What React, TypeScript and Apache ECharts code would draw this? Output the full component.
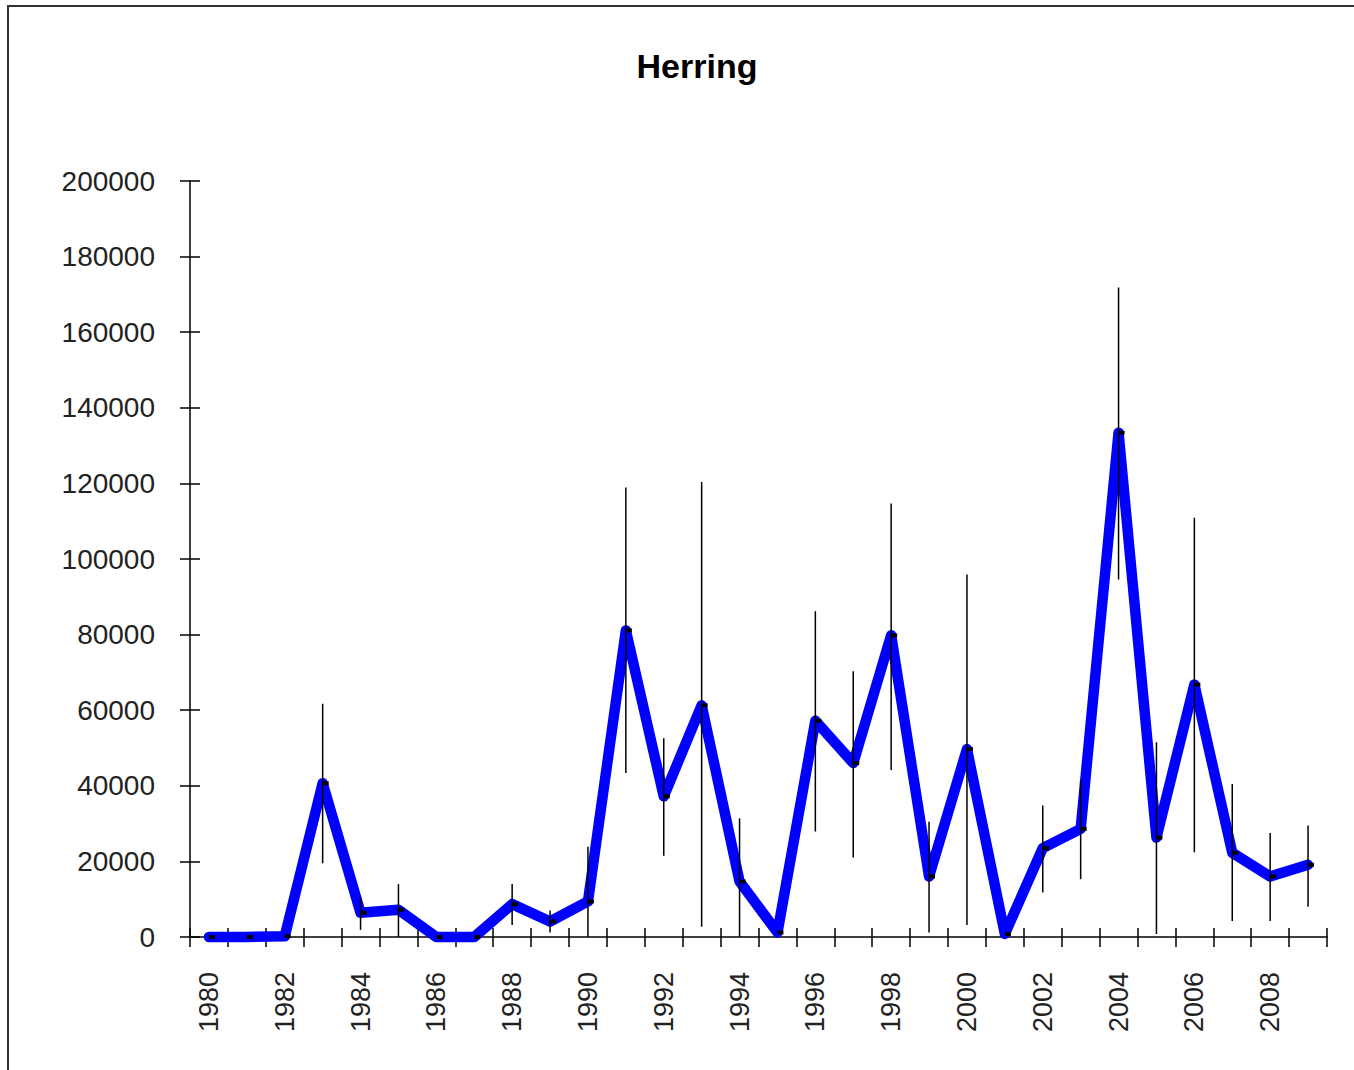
import React, { useEffect, useRef } from "react";
import * as echarts from "echarts";

const years = [
  "1980", "1981", "1982", "1983", "1984", "1985", "1986", "1987", "1988", "1989",
  "1990", "1991", "1992", "1993", "1994", "1995", "1996", "1997", "1998", "1999",
  "2000", "2001", "2002", "2003", "2004", "2005", "2006", "2007", "2008", "2009",
];

const values = [
  0, 0, 200, 40700, 6400, 7200, 0, 0, 8700, 4100,
  9400, 81100, 37200, 61300, 14700, 1200, 57200, 46000, 79800, 16000,
  49700, 800, 23500, 28600, 133400, 26300, 66800, 22300, 16000, 19100,
];

const lower = [
  null, null, null, 19500, 1900, 0, null, null, 3200, 1200,
  0, 43400, 21500, 2700, 0, null, 27900, 21000, 44200, 1200,
  3200, null, 11800, 15300, 94600, 800, 22400, 4200, 4200, 8000,
];

const upper = [
  null, null, null, 61700, 10500, 14000, null, null, 14000, 7000,
  23900, 118900, 52600, 120400, 31400, null, 86200, 70300, 114700, 30500,
  95900, null, 34800, 41400, 171800, 51500, 110900, 40500, 27500, 29500,
];

const titleText = "Herring";
const yMin = 0;
const yMax = 200000;
const yStep = 20000;

const FONT = "'Liberation Sans', Arial, sans-serif";

export default function App() {
  const ref = useRef<HTMLDivElement>(null);

  useEffect(() => {
    if (!ref.current) return;
    const chart = echarts.init(ref.current, null, { renderer: "svg" });

    const errData = years
      .map((_, i) => [i, lower[i], upper[i]])
      .filter((d) => d[1] != null && d[2] != null);

    const grid = { left: 190, right: 27, top: 181, bottom: 133 };

    chart.setOption({
      animation: false,
      backgroundColor: "#ffffff",
      textStyle: { fontFamily: FONT },
      graphic: [
        {
          type: "rect",
          shape: { x: 8, y: 6, width: 1400, height: 1100 },
          style: { fill: "none", stroke: "#333", lineWidth: 2 },
          silent: true,
        },
        {
          type: "text",
          x: 697,
          y: 66,
          style: {
            text: titleText,
            fontFamily: FONT,
            fontSize: 34,
            fontWeight: "bold",
            fill: "#000",
            align: "center",
            verticalAlign: "middle",
          },
        },
      ],
      grid,
      xAxis: [
        {
          type: "category",
          data: years,
          boundaryGap: true,
          position: "bottom",
          axisLine: { show: true, lineStyle: { color: "#000", width: 1.5 } },
          axisTick: {
            show: true,
            interval: 0,
            inside: false,
            length: 10,
            lineStyle: { color: "#000", width: 1.5 },
          },
          axisLabel: {
            interval: 1,
            rotate: 90,
            margin: 35,
            fontSize: 27,
            color: "#222",
            fontFamily: FONT,
          },
          splitLine: { show: false },
        },
        {
          type: "category",
          data: years,
          boundaryGap: true,
          position: "bottom",
          axisLine: { show: false },
          axisTick: {
            show: true,
            interval: 0,
            inside: true,
            length: 9,
            lineStyle: { color: "#000", width: 1.5 },
          },
          axisLabel: { show: false },
          splitLine: { show: false },
        },
      ],
      yAxis: [
        {
          type: "value",
          min: yMin,
          max: yMax,
          interval: yStep,
          position: "left",
          axisLine: { show: true, lineStyle: { color: "#000", width: 1.5 } },
          axisTick: {
            show: true,
            inside: false,
            length: 10,
            lineStyle: { color: "#000", width: 1.5 },
          },
          axisLabel: {
            margin: 35,
            fontSize: 28,
            color: "#222",
            fontFamily: FONT,
            formatter: (v: number) => String(v),
          },
          splitLine: { show: false },
        },
        {
          type: "value",
          min: yMin,
          max: yMax,
          interval: yStep,
          position: "left",
          axisLine: { show: false },
          axisTick: {
            show: true,
            inside: true,
            length: 10,
            lineStyle: { color: "#000", width: 1.5 },
          },
          axisLabel: { show: false },
          splitLine: { show: false },
        },
      ],
      series: [
        {
          type: "line",
          data: values,
          xAxisIndex: 0,
          yAxisIndex: 0,
          clip: false,
          z: 2,
          lineStyle: { color: "#0000ff", width: 10.5, cap: "round", join: "round" },
          symbol: "rect",
          symbolSize: [6, 4],
          symbolOffset: [3, 0],
          showSymbol: true,
          itemStyle: { color: "#000" },
        },
        {
          type: "custom",
          xAxisIndex: 0,
          yAxisIndex: 0,
          z: 3,
          clip: false,
          data: errData,
          encode: { x: 0, y: [1, 2] },
          renderItem: (params: any, api: any) => {
            const i = api.value(0);
            const lo = api.value(1);
            const hi = api.value(2);
            const p1 = api.coord([i, lo]);
            const p2 = api.coord([i, hi]);
            return {
              type: "line",
              shape: { x1: p1[0], y1: p1[1], x2: p2[0], y2: p2[1] },
              style: { stroke: "#000", lineWidth: 1.5 },
            };
          },
        },
      ],
    });

    return () => chart.dispose();
  }, []);

  return (
    <div
      ref={ref}
      style={{ position: "absolute", left: 0, top: 0, width: 1354, height: 1070 }}
    />
  );
}
